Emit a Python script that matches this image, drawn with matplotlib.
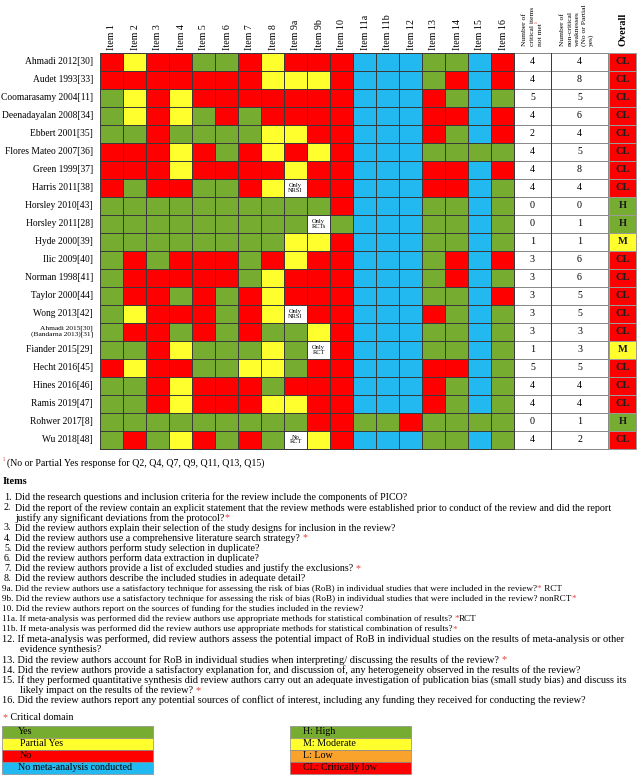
import matplotlib
matplotlib.use('Agg')
import matplotlib.pyplot as plt
from matplotlib.colors import ListedColormap
from matplotlib.patches import Rectangle
import numpy as np

plt.rcParams['font.family'] = ['Liberation Serif', 'DejaVu Serif']

# ---------------- data ----------------
studies = ['Ahmadi 2012[30]', 'Audet 1993[33]', 'Coomarasamy 2004[11]', 'Deenadayalan 2008[34]',
           'Ebbert 2001[35]', 'Flores Mateo 2007[36]', 'Green 1999[37]', 'Harris 2011[38]',
           'Horsley 2010[43]', 'Horsley 2011[28]', 'Hyde 2000[39]', 'Ilic 2009[40]',
           'Norman 1998[41]', 'Taylor 2000[44]', 'Wong 2013[42]',
           'Ahmadi 2015[30]\n(Bandarna 2013)[31]', 'Fiander 2015[29]', 'Hecht 2016[45]',
           'Hines 2016[46]', 'Ramis 2019[47]', 'Rohwer 2017[8]', 'Wu 2018[48]']

item_labels = ['Item 1', 'Item 2', 'Item 3', 'Item 4', 'Item 5', 'Item 6', 'Item 7', 'Item 8',
               'Item 9a', 'Item 9b', 'Item 10', 'Item 11a', 'Item 11b', 'Item 12', 'Item 13',
               'Item 14', 'Item 15', 'Item 16']

# G = Yes, Y = Partial yes, R = No, B = No meta-analysis, W = note cell
ratings = ['RYRRGGRYRRRBBBGGBR',
           'RRRRRRRYYYRBBBGRBR',
           'GYRYRRRRRRRBBBRGBG',
           'GYRYGRGRRRRBBBRRBR',
           'GGRGGGGYYRRBBBRGBR',
           'RRRYRGRYRYRBBBGGGG',
           'RRRYRRRRYRRBBBRRBR',
           'RGRRGGRYWRRBBBRRBG',
           'GGGGGGGGGGRBBBGGBG',
           'GGGGGGGGGWGBBBGGBG',
           'GGGGGGGGYYRBBBGGBG',
           'GRGRRRGRYRRBBBGRBR',
           'GRRRRRGYRRRBBBGRBG',
           'GRRGRGRYRRRBBBGGBR',
           'GYRRRGRYWRRBBBRGBG',
           'GRRGRGRGGYRBBBGGBG',
           'GGRYGGGYGWRBBBGGBG',
           'RYRRGGYYGRRBBBRRBG',
           'GGRYRRRGRRRBBBRGBG',
           'GGRYRRRYYRRBBBRGBG',
           'GGGGGGGGGRRGGRGGGG',
           'GRGYRGRGWYRBBBGGBG']

cell_notes = [('Harris 2011[38]', 'Item 9a', 'Only\nNRSI'),
              ('Horsley 2011[28]', 'Item 9b', 'Only\nRCTs'),
              ('Wong 2013[42]', 'Item 9a', 'Only\nNRSI'),
              ('Fiander 2015[29]', 'Item 9b', 'Only\nRCT'),
              ('Wu 2018[48]', 'Item 9a', 'No\nRCT')]

critical_not_met = [4, 4, 5, 4, 2, 4, 4, 4, 0, 0, 1, 3, 3, 3, 3, 3, 1, 5, 4, 4, 0, 4]
noncritical_weak = [4, 8, 5, 6, 4, 5, 8, 4, 0, 1, 1, 6, 6, 5, 5, 3, 3, 5, 4, 4, 1, 2]
overall = ['CL', 'CL', 'CL', 'CL', 'CL', 'CL', 'CL', 'CL', 'H', 'H', 'M', 'CL', 'CL', 'CL',
           'CL', 'CL', 'M', 'CL', 'CL', 'CL', 'H', 'CL']

legend_left = ['Yes', 'Partial Yes', 'No', 'No meta-analysis conducted']
legend_right = ['H: High', 'M: Moderate', 'L: Low', 'CL: Critically low']

# ---------------- style ----------------
GREEN, YELLOW, RED, BLUE, ORANGE = '#76ac30', '#ffff2e', '#ff0000', '#22b9f0', '#f9a32c'
STAR = '#e8413c'
code_idx = {'G': 0, 'Y': 1, 'R': 2, 'B': 3, 'W': 4}
cmap_items = ListedColormap([GREEN, YELLOW, RED, BLUE, 'white'])
overall_idx = {'H': 0, 'M': 1, 'L': 2, 'CL': 3}
cmap_overall = ListedColormap([GREEN, YELLOW, ORANGE, RED])

W, H = 641, 777
fig = plt.figure(figsize=(W / 100, H / 100), dpi=100)
ax = fig.add_axes([0, 0, 1, 1])
ax.set_xlim(0, W)
ax.set_ylim(H, 0)
ax.axis('off')
renderer = fig.canvas.get_renderer()

# layout
x0, cw = 100, 23
nrow, ncol = len(studies), len(item_labels)
y_edges = np.linspace(53, 448.5, nrow + 1)
x_items = x0 + cw * np.arange(ncol + 1)
x_num = np.array([x_items[-1], 551, 608])
x_ov = np.array([609, 636])
rc = (y_edges[:-1] + y_edges[1:]) / 2

# item grid
C = np.array([[code_idx[c] for c in r] for r in ratings])
ax.pcolormesh(x_items, y_edges, C, cmap=cmap_items, vmin=-0.5, vmax=4.5,
              edgecolors='#3a3a3a', linewidth=0.7)
# numeric columns
ax.pcolormesh(x_num, y_edges, np.zeros((nrow, 2)), cmap=ListedColormap(['white']),
              edgecolors='#8a8a8a', linewidth=0.6)
ax.plot([x_num[1], x_num[1]], [y_edges[0], y_edges[-1]], color='#3a3a3a', lw=0.7)
ax.plot([x_num[0], x_num[0]], [y_edges[0], y_edges[-1]], color='#3a3a3a', lw=0.7)
# overall
O = np.array([[overall_idx[o]] for o in overall])
ax.pcolormesh(x_ov, y_edges, O, cmap=cmap_overall, vmin=-0.5, vmax=3.5,
              edgecolors='#9a9a9a', linewidth=0.5)

# notes in cells
for s, it, txt in cell_notes:
    r, c = studies.index(s), item_labels.index(it)
    ax.text((x_items[c] + x_items[c + 1]) / 2, rc[r], txt, ha='center', va='center',
            fontsize=4.6, linespacing=0.95)

# numbers / overall text
for r in range(nrow):
    ax.text((x_num[0] + x_num[1]) / 2, rc[r], str(critical_not_met[r]), ha='center',
            va='center', fontsize=7.2)
    ax.text((x_num[1] + x_num[2]) / 2, rc[r], str(noncritical_weak[r]), ha='center',
            va='center', fontsize=7.2)
    ax.text((x_ov[0] + x_ov[1]) / 2, rc[r], overall[r], ha='center', va='center',
            fontsize=7.6, fontweight='bold', color='#1c1c1c')

# row labels
for r, s in enumerate(studies):
    if '\n' in s:
        ax.text(93, rc[r], s, ha='right', va='center', fontsize=5.3, linespacing=1.05,
                multialignment='right')
    else:
        ax.text(93, rc[r], s, ha='right', va='center', fontsize=6.85)

# column headers
for c, lab in enumerate(item_labels):
    ax.text((x_items[c] + x_items[c + 1]) / 2 + 0.5, 49.5, lab, rotation=90, ha='center',
            va='bottom', fontsize=7.2)
crit_lines = ['Number of', 'critical items', 'not met']
for i, ln in enumerate(crit_lines):
    t = ax.text(524 + 8 * i, 46, ln, rotation=90, ha='center', va='bottom', fontsize=5.4)
bb = t.get_window_extent(renderer)
ax.text(538.5, H - bb.y1, '¹', rotation=90, ha='center', va='bottom', fontsize=5.0,
        color=STAR)
for i, ln in enumerate(['Number of', 'non-critical', 'weaknesses', '(No or Partial', 'yes)']):
    ax.text(563 + 7 * i, 46, ln, rotation=90, ha='center', va='bottom', fontsize=5.4)
ax.text(622.5, 46, 'Overall', rotation=90, ha='center', va='bottom', fontsize=7.4,
        fontweight='bold')


def seg_text(x, y, segs, size, **kw):
    for s, col in segs:
        t = ax.text(x, y, s, color=col, fontsize=size, ha='left', va='center', **kw)
        x = t.get_window_extent(renderer).x1
    return x


K = 'black'
# footnote
ax.text(2.5, 461, '¹', color=STAR, fontsize=5.5, ha='left', va='center')
ax.text(7, 463.5, '(No or Partial Yes response for Q2, Q4, Q7, Q9, Q11, Q13, Q15)',
        fontsize=7.1, ha='left', va='center')
ax.text(3, 482, 'Items', fontsize=7.4, fontweight='bold', ha='left', va='center')

# (indent, number, segments, size)
item_lines = [
    (0, '1.', [('Did the research questions and inclusion criteria for the review include the components of PICO?', K)], 7.2),
    (0, '2.', [('Did the report of the review contain an explicit statement that the review methods were established prior to conduct of the review and did the report', K)], 7.2),
    (0, '', [('justify any significant deviations from the protocol?', K), ('*', STAR)], 7.2),
    (0, '3.', [('Did the review authors explain their selection of the study designs for inclusion in the review?', K)], 7.2),
    (0, '4.', [('Did the review authors use a comprehensive literature search strategy? ', K), ('*', STAR)], 7.2),
    (0, '5.', [('Did the review authors perform study selection in duplicate?', K)], 7.2),
    (0, '6.', [('Did the review authors perform data extraction in duplicate?', K)], 7.2),
    (0, '7.', [('Did the review authors provide a list of excluded studies and justify the exclusions? ', K), ('*', STAR)], 7.2),
    (0, '8.', [('Did the review authors describe the included studies in adequate detail?', K)], 7.2),
    (1, '', [('9a. Did the review authors use a satisfactory technique for assessing the risk of bias (RoB) in individual studies that were included in the review?', K), ('*', STAR), (' RCT', K)], 6.6),
    (1, '', [('9b. Did the review authors use a satisfactory technique for assessing the risk of bias (RoB) in individual studies that were included in the review? nonRCT', K), ('*', STAR)], 6.6),
    (1, '', [('10. Did the review authors report on the sources of funding for the studies included in the review?', K)], 6.6),
    (1, '', [('11a. If meta-analysis was performed did the review authors use appropriate methods for statistical combination of results? ', K), ('*', STAR), ('RCT', K)], 6.6),
    (1, '', [('11b. If meta-analysis was performed did the review authors use appropriate methods for statistical combination of results?', K), ('*', STAR)], 6.6),
    (1, '', [('12. If meta-analysis was performed, did review authors assess the potential impact of RoB in individual studies on the results of meta-analysis or other', K)], 7.4),
    (2, '', [('evidence synthesis?', K)], 7.4),
    (1, '', [('13. Did the review authors account for RoB in individual studies when interpreting/ discussing the results of the review? ', K), ('*', STAR)], 7.4),
    (1, '', [('14. Did the review authors provide a satisfactory explanation for, and discussion of, any heterogeneity observed in the results of the review?', K)], 7.4),
    (1, '', [('15. If they performed quantitative synthesis did review authors carry out an adequate investigation of publication bias (small study bias) and discuss its', K)], 7.4),
    (2, '', [('likely impact on the results of the review? ', K), ('*', STAR)], 7.4),
    (1, '', [('16. Did the review authors report any potential sources of conflict of interest, including any funding they received for conducting the review?', K)], 7.4),
]
y = 497.5
dy = 10.15
xstart = {0: 15, 1: 2, 2: 20}
for indent, num, segs, size in item_lines:
    if num:
        ax.text(4, y, num, fontsize=size, ha='left', va='center')
    seg_text(xstart[indent], y, segs, size)
    y += dy

# critical domain
seg_text(3, 718, [('*', STAR), (' Critical domain', K)], 7.2)

# legend boxes
rh_leg = 12
for i, (lab, col) in enumerate(zip(legend_left, [GREEN, YELLOW, RED, BLUE])):
    ax.add_patch(Rectangle((2, 726 + i * rh_leg), 151, rh_leg, facecolor=col,
                           edgecolor='#8a8a8a', lw=0.5))
    ax.text(18 if i != 1 and i != 2 else 20, 726 + (i + 0.5) * rh_leg, lab, fontsize=7.2,
            ha='left', va='center')
for i, (lab, col) in enumerate(zip(legend_right, [GREEN, YELLOW, ORANGE, RED])):
    ax.add_patch(Rectangle((290, 726 + i * rh_leg), 121, rh_leg, facecolor=col,
                           edgecolor='#8a8a8a', lw=0.5))
    ax.text(303, 726 + (i + 0.5) * rh_leg, lab, fontsize=7.2, ha='left', va='center')

fig.savefig('out.png', dpi=100)
